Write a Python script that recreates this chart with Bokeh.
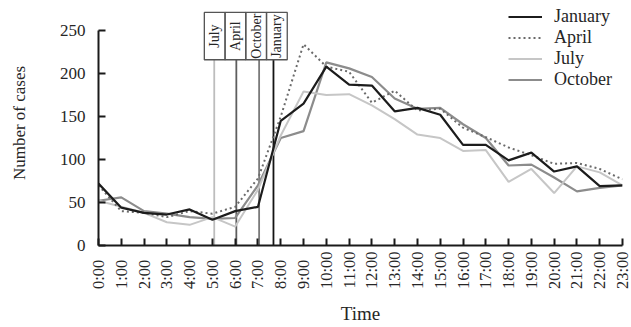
import math
from bokeh.plotting import figure
from bokeh.models import FixedTicker, Legend, LegendItem, Range1d
from bokeh.core.properties import value
from bokeh.embed import file_html
from bokeh.resources import INLINE

# ---- data ----
hours = list(range(24))
hour_labels = [f"{h}:00" for h in hours]
january = [72, 44, 38, 36, 42, 30, 40, 45, 145, 165, 208, 187, 186, 156, 160, 152, 117, 117, 99, 108, 86, 92, 69, 70]
april = [70, 40, 38, 33, 40, 37, 45, 78, 150, 234, 208, 202, 166, 180, 157, 159, 137, 126, 114, 105, 95, 96, 89, 77]
july = [52, 45, 38, 27, 24, 33, 22, 65, 128, 179, 175, 176, 163, 147, 129, 125, 110, 111, 74, 89, 61, 92, 85, 70]
october = [52, 56, 40, 37, 33, 31, 32, 70, 125, 133, 213, 206, 196, 171, 159, 160, 141, 125, 93, 94, 79, 63, 67, 70]
sunrise_months = ["July", "April", "October", "January"]
sunrise_hours = [5.08, 6.05, 7.05, 7.68]
y_ticks = [0, 50, 100, 150, 200, 250]

FONT = "Liberation Serif"
TXT = "#262626"

p = figure(width=631, height=327, output_backend="svg", toolbar_location=None,
           x_range=Range1d(0, 23), y_range=Range1d(0, 284.9),
           min_border_left=98, min_border_right=9, min_border_top=0, min_border_bottom=82)
p.grid.visible = False
p.outline_line_color = None

# axes
xa = p.xaxis[0]
xa.ticker = FixedTicker(ticks=hours)
# pad short labels (non-breaking spaces) so that label starts line up at the bottom
longest = max(len(s) for s in hour_labels)
xa.major_label_overrides = {h: lab + "\u00a0\u00a0" * (longest - len(lab))
                            for h, lab in zip(hours, hour_labels)}
xa.major_label_orientation = math.pi / 2
xa.major_label_text_font_size = "16.5px"
xa.major_label_text_font = FONT
xa.major_label_text_color = TXT
xa.major_label_standoff = 6
xa.axis_label = "Time"
xa.axis_label_text_font = FONT
xa.axis_label_text_font_style = "normal"
xa.axis_label_text_font_size = "19px"
xa.axis_label_text_color = TXT
xa.axis_label_standoff = 11
xa.major_tick_in = 7
xa.major_tick_out = 0
xa.minor_tick_line_color = None
xa.axis_line_width = 2
xa.major_tick_line_width = 2
xa.axis_line_color = "#1a1a1a"
xa.major_tick_line_color = "#1a1a1a"

ya = p.yaxis[0]
ya.ticker = FixedTicker(ticks=y_ticks)
ya.bounds = (0, 250)
ya.major_label_text_font = FONT
ya.major_label_text_font_size = "17px"
ya.major_label_text_color = TXT
ya.major_label_standoff = 13
ya.axis_label = "Number of cases"
ya.axis_label_text_font = FONT
ya.axis_label_text_font_style = "normal"
ya.axis_label_text_font_size = "17px"
ya.axis_label_text_color = TXT
ya.axis_label_standoff = 28
ya.major_tick_in = 7
ya.major_tick_out = 0
ya.minor_tick_line_color = None
ya.axis_line_width = 2
ya.major_tick_line_width = 2
ya.axis_line_color = "#1a1a1a"
ya.major_tick_line_color = "#1a1a1a"

# sunrise marker lines and label box
BOX_BOTTOM, BOX_TOP = 216, 271
line_cols = ["#bdbdbd", "#5e5e5e", "#7a7a7a", "#141414"]
p.segment(x0=sunrise_hours, y0=[0] * 4, x1=sunrise_hours, y1=[BOX_BOTTOM] * 4,
          line_color=line_cols, line_width=1.8)
cell_w = 0.91
mid = sum(sunrise_hours) / len(sunrise_hours)
centers = [mid + (i - 1.5) * cell_w for i in range(4)]
p.quad(left=[c - cell_w / 2 for c in centers], right=[c + cell_w / 2 for c in centers],
       bottom=[BOX_BOTTOM] * 4, top=[BOX_TOP] * 4,
       fill_color=None, line_color="#555555", line_width=1.3)
p.text(x=centers, y=[(BOX_TOP + BOX_BOTTOM) / 2] * 4, text=sunrise_months,
       angle=math.pi / 2, text_align="center", text_baseline="middle",
       text_font=value(FONT), text_font_size="14px", text_color=TXT)

# series
r_oct = p.line(hours, october, line_color="#8c8c8c", line_width=2.2)
r_jul = p.line(hours, july, line_color="#c6c6c6", line_width=2)
r_apr = p.line(hours, april, line_color="#6a6a6a", line_width=2, line_dash="2 3")
r_jan = p.line(hours, january, line_color="#1c1c1c", line_width=2.2)

legend = Legend(items=[LegendItem(label="January", renderers=[r_jan]),
                       LegendItem(label="April", renderers=[r_apr]),
                       LegendItem(label="July", renderers=[r_jul]),
                       LegendItem(label="October", renderers=[r_oct])],
                location=(410, 155), border_line_color=None, background_fill_alpha=0,
                padding=0, margin=0, spacing=0, glyph_width=34, glyph_height=21,
                label_height=21, label_standoff=12,
                label_text_font=FONT, label_text_font_size="18px", label_text_color=TXT)
p.add_layout(legend, "center")

open("out.html", "w").write(file_html(p, INLINE))
